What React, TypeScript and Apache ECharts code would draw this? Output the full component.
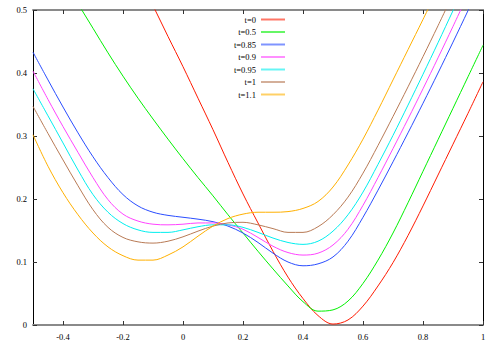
import React, { useEffect, useRef } from "react";
import * as echarts from "echarts";

const X = [-0.5, -0.45, -0.4, -0.35, -0.3, -0.25, -0.2, -0.15, -0.1, -0.05, 0, 0.05, 0.1, 0.15, 0.2, 0.25, 0.3, 0.35, 0.4, 0.45, 0.5, 0.55, 0.6, 0.65, 0.7, 0.75, 0.8, 0.85, 0.9, 0.95, 1.0];

const T0 = [null, null, null, null, null, null, null, 0.555, 0.507, 0.458, 0.41, 0.36, 0.31, 0.258, 0.208, 0.162, 0.117, 0.076, 0.042, 0.015, 0.0015, 0.008, 0.03, 0.062, 0.099, 0.142, 0.189, 0.238, 0.287, 0.336, 0.386];
const T05 = [null, null, 0.55, 0.51, 0.471, 0.432, 0.395, 0.36, 0.327, 0.295, 0.264, 0.234, 0.205, 0.175, 0.146, 0.117, 0.089, 0.062, 0.037, 0.022, 0.024, 0.038, 0.066, 0.103, 0.146, 0.194, 0.244, 0.294, 0.344, 0.394, 0.444];
const T085 = [0.433, 0.389, 0.346, 0.305, 0.267, 0.234, 0.207, 0.189, 0.179, 0.174, 0.171, 0.168, 0.164, 0.157, 0.146, 0.131, 0.114, 0.1, 0.094, 0.097, 0.108, 0.133, 0.171, 0.214, 0.259, 0.305, 0.352, 0.4, 0.449, 0.499, 0.55];
const T09 = [0.403, 0.358, 0.315, 0.274, 0.234, 0.199, 0.176, 0.165, 0.16, 0.159, 0.16, 0.162, 0.162, 0.159, 0.152, 0.139, 0.125, 0.115, 0.111, 0.114, 0.127, 0.152, 0.19, 0.234, 0.28, 0.327, 0.375, 0.424, 0.474, 0.525, null];
const T095 = [0.375, 0.332, 0.289, 0.246, 0.207, 0.179, 0.161, 0.151, 0.147, 0.147, 0.151, 0.156, 0.159, 0.159, 0.155, 0.147, 0.138, 0.131, 0.128, 0.133, 0.149, 0.175, 0.211, 0.255, 0.301, 0.349, 0.398, 0.448, 0.499, 0.55, null];
const T1 = [0.347, 0.304, 0.262, 0.221, 0.183, 0.155, 0.139, 0.132, 0.13, 0.133, 0.14, 0.149, 0.157, 0.162, 0.163, 0.159, 0.153, 0.147, 0.147, 0.156, 0.175, 0.203, 0.241, 0.285, 0.331, 0.378, 0.426, 0.475, 0.525, null, null];
const T11 = [0.302, 0.252, 0.21, 0.175, 0.146, 0.124, 0.11, 0.103, 0.103, 0.111, 0.124, 0.141, 0.157, 0.169, 0.176, 0.179, 0.179, 0.18, 0.185, 0.196, 0.219, 0.254, 0.295, 0.341, 0.389, 0.437, 0.485, 0.534, null, null, null];

const NAMES = ["t=0", "t=0.5", "t=0.85", "t=0.9", "t=0.95", "t=1", "t=1.1"];
const VALUES = [T0, T05, T085, T09, T095, T1, T11];
const COLORS = ["#ff1a00", "#00f000", "#2a4dff", "#ff44ff", "#00eeee", "#b87a55", "#ffb000"];

const X_TICKS = [-0.4, -0.2, 0, 0.2, 0.4, 0.6, 0.8, 1];

const FONT = "Liberation Serif";

export default function App() {
  const ref = useRef<HTMLDivElement>(null);
  useEffect(() => {
    if (!ref.current) return;
    const chart = echarts.init(ref.current, undefined, { renderer: "svg" });
    const fmt = (v: number) => String(parseFloat(Number(v).toFixed(2)));
    const tickStyle = { show: true, inside: true, length: 4, lineStyle: { color: "#333", width: 1 } };
    chart.setOption({
      animation: false,
      backgroundColor: "#fff",
      grid: { left: 33, right: 15, top: 10, bottom: 25, containLabel: false },
      legend: {
        orient: "vertical",
        right: 213,
        top: 13.5,
        padding: 0,
        align: "right",
        icon: "rect",
        itemWidth: 24,
        itemHeight: 2,
        itemGap: 0.5,
        itemStyle: { opacity: 0.6 },
        data: NAMES,
        textStyle: { fontFamily: FONT, fontSize: 8.5, color: "#000", lineHeight: 12 },
      },
      xAxis: [
        {
          type: "value",
          position: "bottom",
          min: -0.5,
          max: 1,
          axisLine: { show: true, onZero: false, lineStyle: { color: "#8a8a8a", width: 2 } },
          axisTick: { ...tickStyle, customValues: X_TICKS },
          axisLabel: { customValues: X_TICKS, formatter: fmt, fontFamily: FONT, fontSize: 8.5, color: "#000", margin: 7 },
          splitLine: { show: false },
        },
        {
          type: "value",
          position: "top",
          min: -0.5,
          max: 1,
          axisLine: { show: true, onZero: false, lineStyle: { color: "#8a8a8a", width: 2 } },
          axisTick: { ...tickStyle, customValues: X_TICKS },
          axisLabel: { show: false },
          splitLine: { show: false },
        },
      ],
      yAxis: [
        {
          type: "value",
          position: "left",
          min: 0,
          max: 0.5,
          interval: 0.1,
          axisLine: { show: true, onZero: false, lineStyle: { color: "#000", width: 1 } },
          axisTick: tickStyle,
          axisLabel: { formatter: fmt, fontFamily: FONT, fontSize: 8.5, color: "#000", margin: 6 },
          splitLine: { show: false },
        },
        {
          type: "value",
          position: "right",
          min: 0,
          max: 0.5,
          interval: 0.1,
          axisLine: { show: true, onZero: false, lineStyle: { color: "#000", width: 1 } },
          axisTick: tickStyle,
          axisLabel: { show: false },
          splitLine: { show: false },
        },
      ],
      series: NAMES.map((name, k) => ({
        name,
        type: "line",
        xAxisIndex: 0,
        yAxisIndex: 0,
        smooth: 0.35,
        showSymbol: false,
        symbol: "none",
        clip: true,
        color: COLORS[k],
        lineStyle: { width: 1, color: COLORS[k] },
        data: X.map((x, i) => [x, VALUES[k][i]]).filter((p) => p[1] !== null),
      })),
    });
    return () => chart.dispose();
  }, []);
  return <div ref={ref} style={{ position: "absolute", left: 0, top: 0, width: 498, height: 350 }} />;
}
